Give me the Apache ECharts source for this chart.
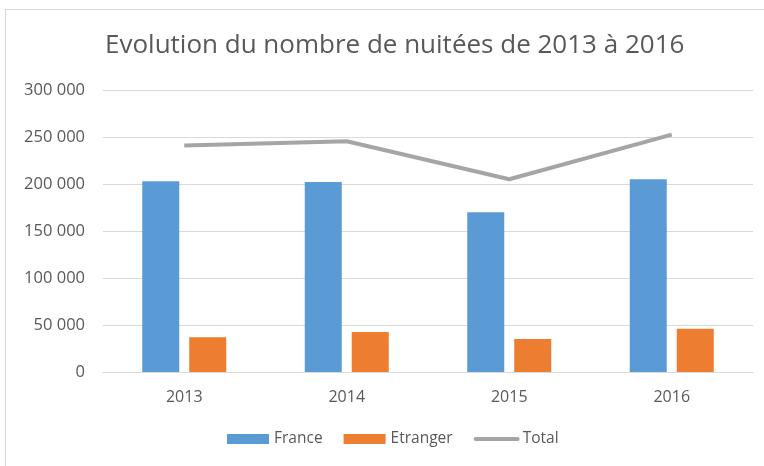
<!DOCTYPE html>
<html>
<head>
<meta charset="utf-8">
<script src="https://cdn.jsdelivr.net/npm/echarts@6/dist/echarts.min.js"></script>
<style>
  body { margin: 0; background: #fff; overflow: hidden; }
  #frame { position: absolute; left: 5px; top: 9px; width: 800px; height: 500px; border: 1px solid #d9d9d9; }
  #chart { position: absolute; left: 0; top: 0; width: 764px; height: 466px; }
</style>
</head>
<body>
<div id="frame"></div>
<div id="chart"></div>
<script>
const years = ['2013', '2014', '2015', '2016']
const france = [203000, 202000, 170000, 205000]
const etranger = [37000, 42500, 35000, 46000]
const total = [241000, 245500, 205000, 252500]
const yTicks = [0, 50000, 100000, 150000, 200000, 250000, 300000]

const txt = '#595959'
const fontFam = '"Open Sans", "Noto Sans", sans-serif'

function fmt (v) {
  return String(v).replace(/\B(?=(\d{3})+(?!\d))/g, ' ')
}

let myChart = echarts.init(document.getElementById('chart'))
let option = {
  animation: false,
  textStyle: { fontFamily: fontFam },
  title: {
    text: 'Evolution du nombre de nuitées de 2013 à 2016',
    left: 100,
    top: 28,
    textStyle: { color: txt, fontSize: 26, fontWeight: 'normal', fontFamily: fontFam }
  },
  legend: {
    left: 222,
    top: 426,
    itemWidth: 42,
    itemHeight: 10,
    itemGap: 21,
    textStyle: { color: txt, fontSize: 15.5, fontFamily: fontFam },
    data: [
      { name: 'France', icon: 'rect' },
      { name: 'Etranger', icon: 'rect' },
      { name: 'Total', itemStyle: { opacity: 0 }, lineStyle: { width: 4, color: '#a5a5a5', cap: 'round' } }
    ]
  },
  grid: { left: 103, right: 11, top: 90, bottom: 94, containLabel: false },
  xAxis: {
    type: 'category',
    data: years,
    axisLine: { lineStyle: { color: '#d9d9d9', width: 1 } },
    axisTick: { show: false },
    axisLabel: { color: txt, fontSize: 16, margin: 17 }
  },
  yAxis: {
    type: 'value',
    min: yTicks[0],
    max: yTicks[yTicks.length - 1],
    interval: 50000,
    axisLine: { show: false },
    axisTick: { show: false },
    splitLine: { lineStyle: { color: '#d9d9d9', width: 1 } },
    axisLabel: { color: txt, fontSize: 16.5, margin: 18, formatter: fmt }
  },
  series: [
    {
      name: 'France',
      type: 'bar',
      data: france,
      barWidth: 37,
      barGap: '27%',
      itemStyle: { color: '#5b9bd5' }
    },
    {
      name: 'Etranger',
      type: 'bar',
      data: etranger,
      barWidth: 37,
      itemStyle: { color: '#ed7d31' }
    },
    {
      name: 'Total',
      type: 'line',
      data: total,
      symbol: 'none',
      lineStyle: { color: '#a5a5a5', width: 4 },
      itemStyle: { color: '#a5a5a5' }
    }
  ]
}
myChart.setOption(option)
</script>
</body>
</html>
